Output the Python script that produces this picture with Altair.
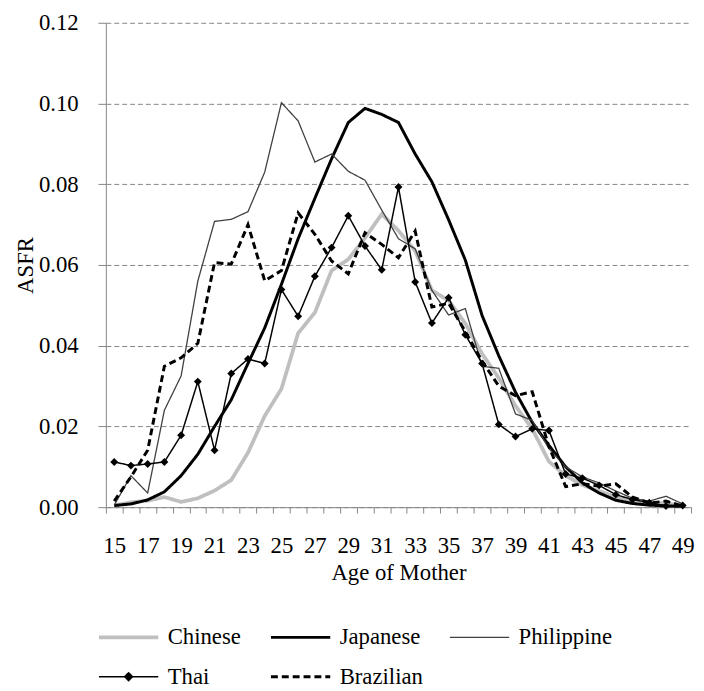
import altair as alt
import pandas as pd

ages = list(range(15, 50))
series_names = ["Chinese", "Japanese", "Philippine", "Thai", "Brazilian"]

chinese = [0.0004, 0.0012, 0.0016, 0.0025, 0.0013, 0.0022, 0.0041, 0.0067, 0.0135, 0.0226,
           0.0293, 0.0431, 0.0482, 0.0586, 0.0614, 0.0667, 0.0726, 0.0685, 0.0635, 0.0537,
           0.0512, 0.0455, 0.0380, 0.0320, 0.0251, 0.0194, 0.0113, 0.0078, 0.0055, 0.0040,
           0.0025, 0.0013, 0.0010, 0.0010, 0.0003]
japanese = [0.0004, 0.0008, 0.0018, 0.0038, 0.0078, 0.0131, 0.0200, 0.0266, 0.0356, 0.0444,
            0.0552, 0.0665, 0.0765, 0.0863, 0.0953, 0.0988, 0.0973, 0.0953, 0.0875, 0.0806,
            0.0712, 0.0612, 0.0475, 0.0375, 0.0285, 0.0210, 0.0153, 0.0100, 0.0060, 0.0035,
            0.0017, 0.0009, 0.0005, 0.0003, 0.0002]
philippine = [0.0005, 0.0078, 0.0035, 0.0240, 0.0325, 0.0560, 0.0708, 0.0713, 0.0732, 0.0830,
              0.1002, 0.0957, 0.0855, 0.0875, 0.0832, 0.0810, 0.0736, 0.0665, 0.0640, 0.0537,
              0.0476, 0.0492, 0.0349, 0.0344, 0.0231, 0.0215, 0.0145, 0.0100, 0.0075, 0.0060,
              0.0040, 0.0022, 0.0015, 0.0027, 0.0008]
thai = [0.0112, 0.0103, 0.0107, 0.0112, 0.0178, 0.0311, 0.0141, 0.0331, 0.0367, 0.0356,
        0.0539, 0.0473, 0.0572, 0.0643, 0.0722, 0.0647, 0.0588, 0.0793, 0.0558, 0.0456,
        0.0519, 0.0427, 0.0356, 0.0205, 0.0175, 0.0194, 0.0190, 0.0082, 0.0072, 0.0054,
        0.0031, 0.0019, 0.0011, 0.0003, 0.0004]
brazilian = [0.0015, 0.0075, 0.0141, 0.0349, 0.0370, 0.0406, 0.0606, 0.0602, 0.0700, 0.0561,
             0.0586, 0.0729, 0.0676, 0.0610, 0.0578, 0.0680, 0.0651, 0.0618, 0.0684, 0.0496,
             0.0505, 0.0435, 0.0362, 0.0300, 0.0276, 0.0286, 0.0150, 0.0051, 0.0058, 0.0052,
             0.0058, 0.0025, 0.0010, 0.0015, 0.0003]

y_ticks = [0.0, 0.02, 0.04, 0.06, 0.08, 0.10, 0.12]

rows = []
for name, vals in zip(series_names, [chinese, japanese, philippine, thai, brazilian]):
    for a, v in zip(ages, vals):
        rows.append({"age": a, "asfr": v, "series": name})
df = pd.DataFrame(rows)

colors = ["#bfbfbf", "#000000", "#404040", "#000000", "#000000"]
widths = [3.8, 3, 1.3, 1.5, 3]
dashes = [[1, 0], [1, 0], [1, 0], [1, 0], [7, 4]]
LINE = "M-3.75,0L3.75,0"
d = 0.5
d2 = 0.25
THAI = (f"M-3.75,0L3.75,0M0,-{d}L{d},0L0,{d}L-{d},0Z"
        f"M0,-{d2}L{d2},0L0,{d2}L-{d2},0Z")
shapes = [LINE, LINE, LINE, THAI, LINE]

FONT = "'Liberation Serif', 'Times New Roman', 'DejaVu Serif', serif"
FS = 23
GREY = "#868686"
W, H = 592, 490
half_cat = W / 35 / 2

tick_vals = [a - 0.5 for a in range(15, 51)]

x_enc = alt.X(
    "age:Q",
    scale=alt.Scale(domain=[14.5, 49.5], nice=False, zero=False),
    axis=alt.Axis(
        values=tick_vals,
        labelExpr="datum.value % 2 == 0.5 ? format(datum.value + 0.5, 'd') : ''",
        labelOffset=half_cat,
        labelOverlap=False,
        labelFlush=False,
        labelBound=False,
        grid=False,
        tickSize=6,
        tickColor=GREY,
        domainColor=GREY,
        labelFont=FONT,
        labelFontSize=FS,
        labelColor="black",
        labelPadding=22,
        title="Age of Mother",
        titleFont=FONT,
        titleFontSize=FS,
        titleFontWeight="normal",
        titleColor="black",
        titlePadding=4,
    ),
)
y_enc = alt.Y(
    "asfr:Q",
    scale=alt.Scale(domain=[0, 0.12], nice=False, zero=True),
    axis=alt.Axis(
        values=y_ticks,
        format=".2f",
        grid=True,
        gridColor=GREY,
        gridDash=[5, 3],
        gridWidth=1,
        tickSize=8,
        tickColor=GREY,
        domainColor=GREY,
        labelFont=FONT,
        labelFontSize=FS,
        labelColor="black",
        labelPadding=20,
        title="ASFR",
        titleFont=FONT,
        titleFontSize=FS,
        titleFontWeight="normal",
        titleColor="black",
        titlePadding=1,
    ),
)

color_scale = alt.Scale(domain=series_names, range=colors)
width_scale = alt.Scale(type="ordinal", domain=series_names, range=widths)
dash_scale = alt.Scale(domain=series_names, range=dashes)
shape_scale = alt.Scale(domain=series_names, range=shapes)

legend = alt.Legend(
    title=None,
    orient="none",
    direction="horizontal",
    legendX=-7,
    legendY=610,
    columns=3,
    columnPadding=24,
    rowPadding=16,
    symbolSize=256,
    symbolOffset=18.5,
    labelOffset=28,
    labelFont=FONT,
    labelFontSize=FS,
    labelColor="black",
    padding=0,
)

base = alt.Chart(df)

# legend-only layer (draws no marks; provides the merged legend)
leg = base.transform_filter("false").mark_point(
    size=256, filled=False, fill="black", opacity=1
).encode(
    x=x_enc,
    y=y_enc,
    color=alt.Color("series:N", scale=color_scale, legend=legend),
    strokeWidth=alt.StrokeWidth("series:N", scale=width_scale, legend=legend),
    strokeDash=alt.StrokeDash("series:N", scale=dash_scale, legend=legend),
    shape=alt.Shape("series:N", scale=shape_scale, legend=legend),
)

lines = base.mark_line().encode(
    x=x_enc,
    y=y_enc,
    color=alt.Color("series:N", scale=color_scale, legend=None),
    strokeWidth=alt.StrokeWidth("series:N", scale=width_scale, legend=None),
    strokeDash=alt.StrokeDash("series:N", scale=dash_scale, legend=None),
)

pts = base.transform_filter("datum.series == 'Thai'").mark_point(
    shape="diamond", filled=True, color="black", size=64, opacity=1
).encode(x=x_enc, y=y_enc)

chart = (
    alt.layer(leg, lines, pts)
    .properties(
        width=W,
        height=H,
        autosize=alt.AutoSizeParams(type="none"),
        padding={"left": 99, "top": 11, "right": 5, "bottom": 180},
        background="white",
    )
    .configure_view(stroke=None)
)

chart.save("out.html", embed_options={"renderer": "svg", "actions": False})
